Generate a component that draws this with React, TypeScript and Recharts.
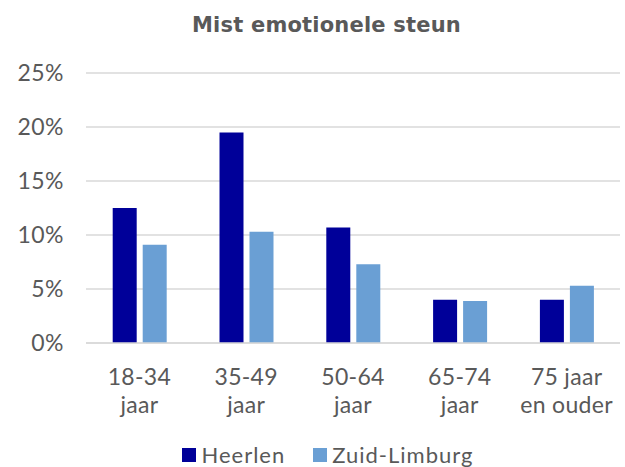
import React from "react";
import { BarChart, Bar, XAxis, YAxis, CartesianGrid, Legend } from "recharts";

const categories = ["18-34 jaar", "35-49 jaar", "50-64 jaar", "65-74 jaar", "75 jaar en ouder"];
const categoryLines = [["18-34", "jaar"], ["35-49", "jaar"], ["50-64", "jaar"], ["65-74", "jaar"], ["75 jaar", "en ouder"]];
const heerlen = [0.125, 0.195, 0.107, 0.04, 0.04];
const zuidLimburg = [0.091, 0.103, 0.073, 0.039, 0.053];
const yTicks = [0, 0.05, 0.1, 0.15, 0.2, 0.25];

const data = categories.map((c, i) => ({
  name: c,
  Heerlen: heerlen[i],
  "Zuid-Limburg": zuidLimburg[i],
}));

const FONT = "Lato, 'DejaVu Sans', sans-serif";
const TITLE_FONT = "'DejaVu Sans', sans-serif";
const GRAY = "#595959";
const C1 = "#000099";
const C2 = "#6A9FD4";

const XTick = (props: any) => {
  const { x, y, payload } = props;
  const idx = categories.indexOf(payload.value);
  const lines = idx >= 0 ? categoryLines[idx] : [payload.value];
  return (
    <g transform={`translate(${x},${y})`}>
      {lines.map((l: string, i: number) => (
        <text key={i} x={0} y={34 + i * 28} textAnchor="middle" fill={GRAY} fontSize={23} fontFamily={FONT} letterSpacing={0.3}>
          {l}
        </text>
      ))}
    </g>
  );
};

const LegendContent = () => (
  <div style={{ display: "flex", justifyContent: "center", alignItems: "center", fontFamily: FONT, fontSize: 22, color: GRAY, paddingLeft: 36, marginTop: 9, lineHeight: "26px", letterSpacing: 1 }}>
    {[{ n: "Heerlen", c: C1 }, { n: "Zuid-Limburg", c: C2 }].map((it, i) => (
      <div key={i} style={{ display: "flex", alignItems: "center", marginLeft: i ? 28 : 0 }}>
        <div style={{ width: 14, height: 14, background: it.c, marginRight: 5 }} />
        <span>{it.n}</span>
      </div>
    ))}
  </div>
);

export default function App() {
  return (
    <div style={{ position: "absolute", left: 0, top: 0, width: 625, height: 467, background: "#fff", overflow: "hidden" }}>
      <div style={{ position: "absolute", left: 0, top: 13, width: 653, textAlign: "center", fontFamily: TITLE_FONT, fontWeight: 700, fontSize: 21, color: GRAY, letterSpacing: 0.2 }}>
        Mist emotionele steun
      </div>
      <BarChart
        width={625}
        height={467}
        data={data}
        margin={{ top: 73, right: 5, bottom: 0, left: 0 }}
        barCategoryGap="25%"
        barGap={6}
      >
        <CartesianGrid vertical={false} stroke="#d9d9d9" strokeWidth={1.5} />
        <XAxis dataKey="name" axisLine={{ stroke: "#d9d9d9", strokeWidth: 1.5 }} tickLine={false} tick={<XTick />} height={90} interval={0} />
        <YAxis
          domain={[0, 0.25]}
          ticks={yTicks}
          tickFormatter={(v: number) => `${Math.round(v * 100)}%`}
          axisLine={false}
          tickLine={false}
          width={86}
          tick={{ fill: GRAY, fontSize: 23, fontFamily: FONT, letterSpacing: 0.5 }}
          tickMargin={16}
        />
        <Legend verticalAlign="bottom" height={34} content={<LegendContent />} />
        <Bar dataKey="Heerlen" fill={C1} isAnimationActive={false} />
        <Bar dataKey="Zuid-Limburg" fill={C2} isAnimationActive={false} />
      </BarChart>
    </div>
  );
}
